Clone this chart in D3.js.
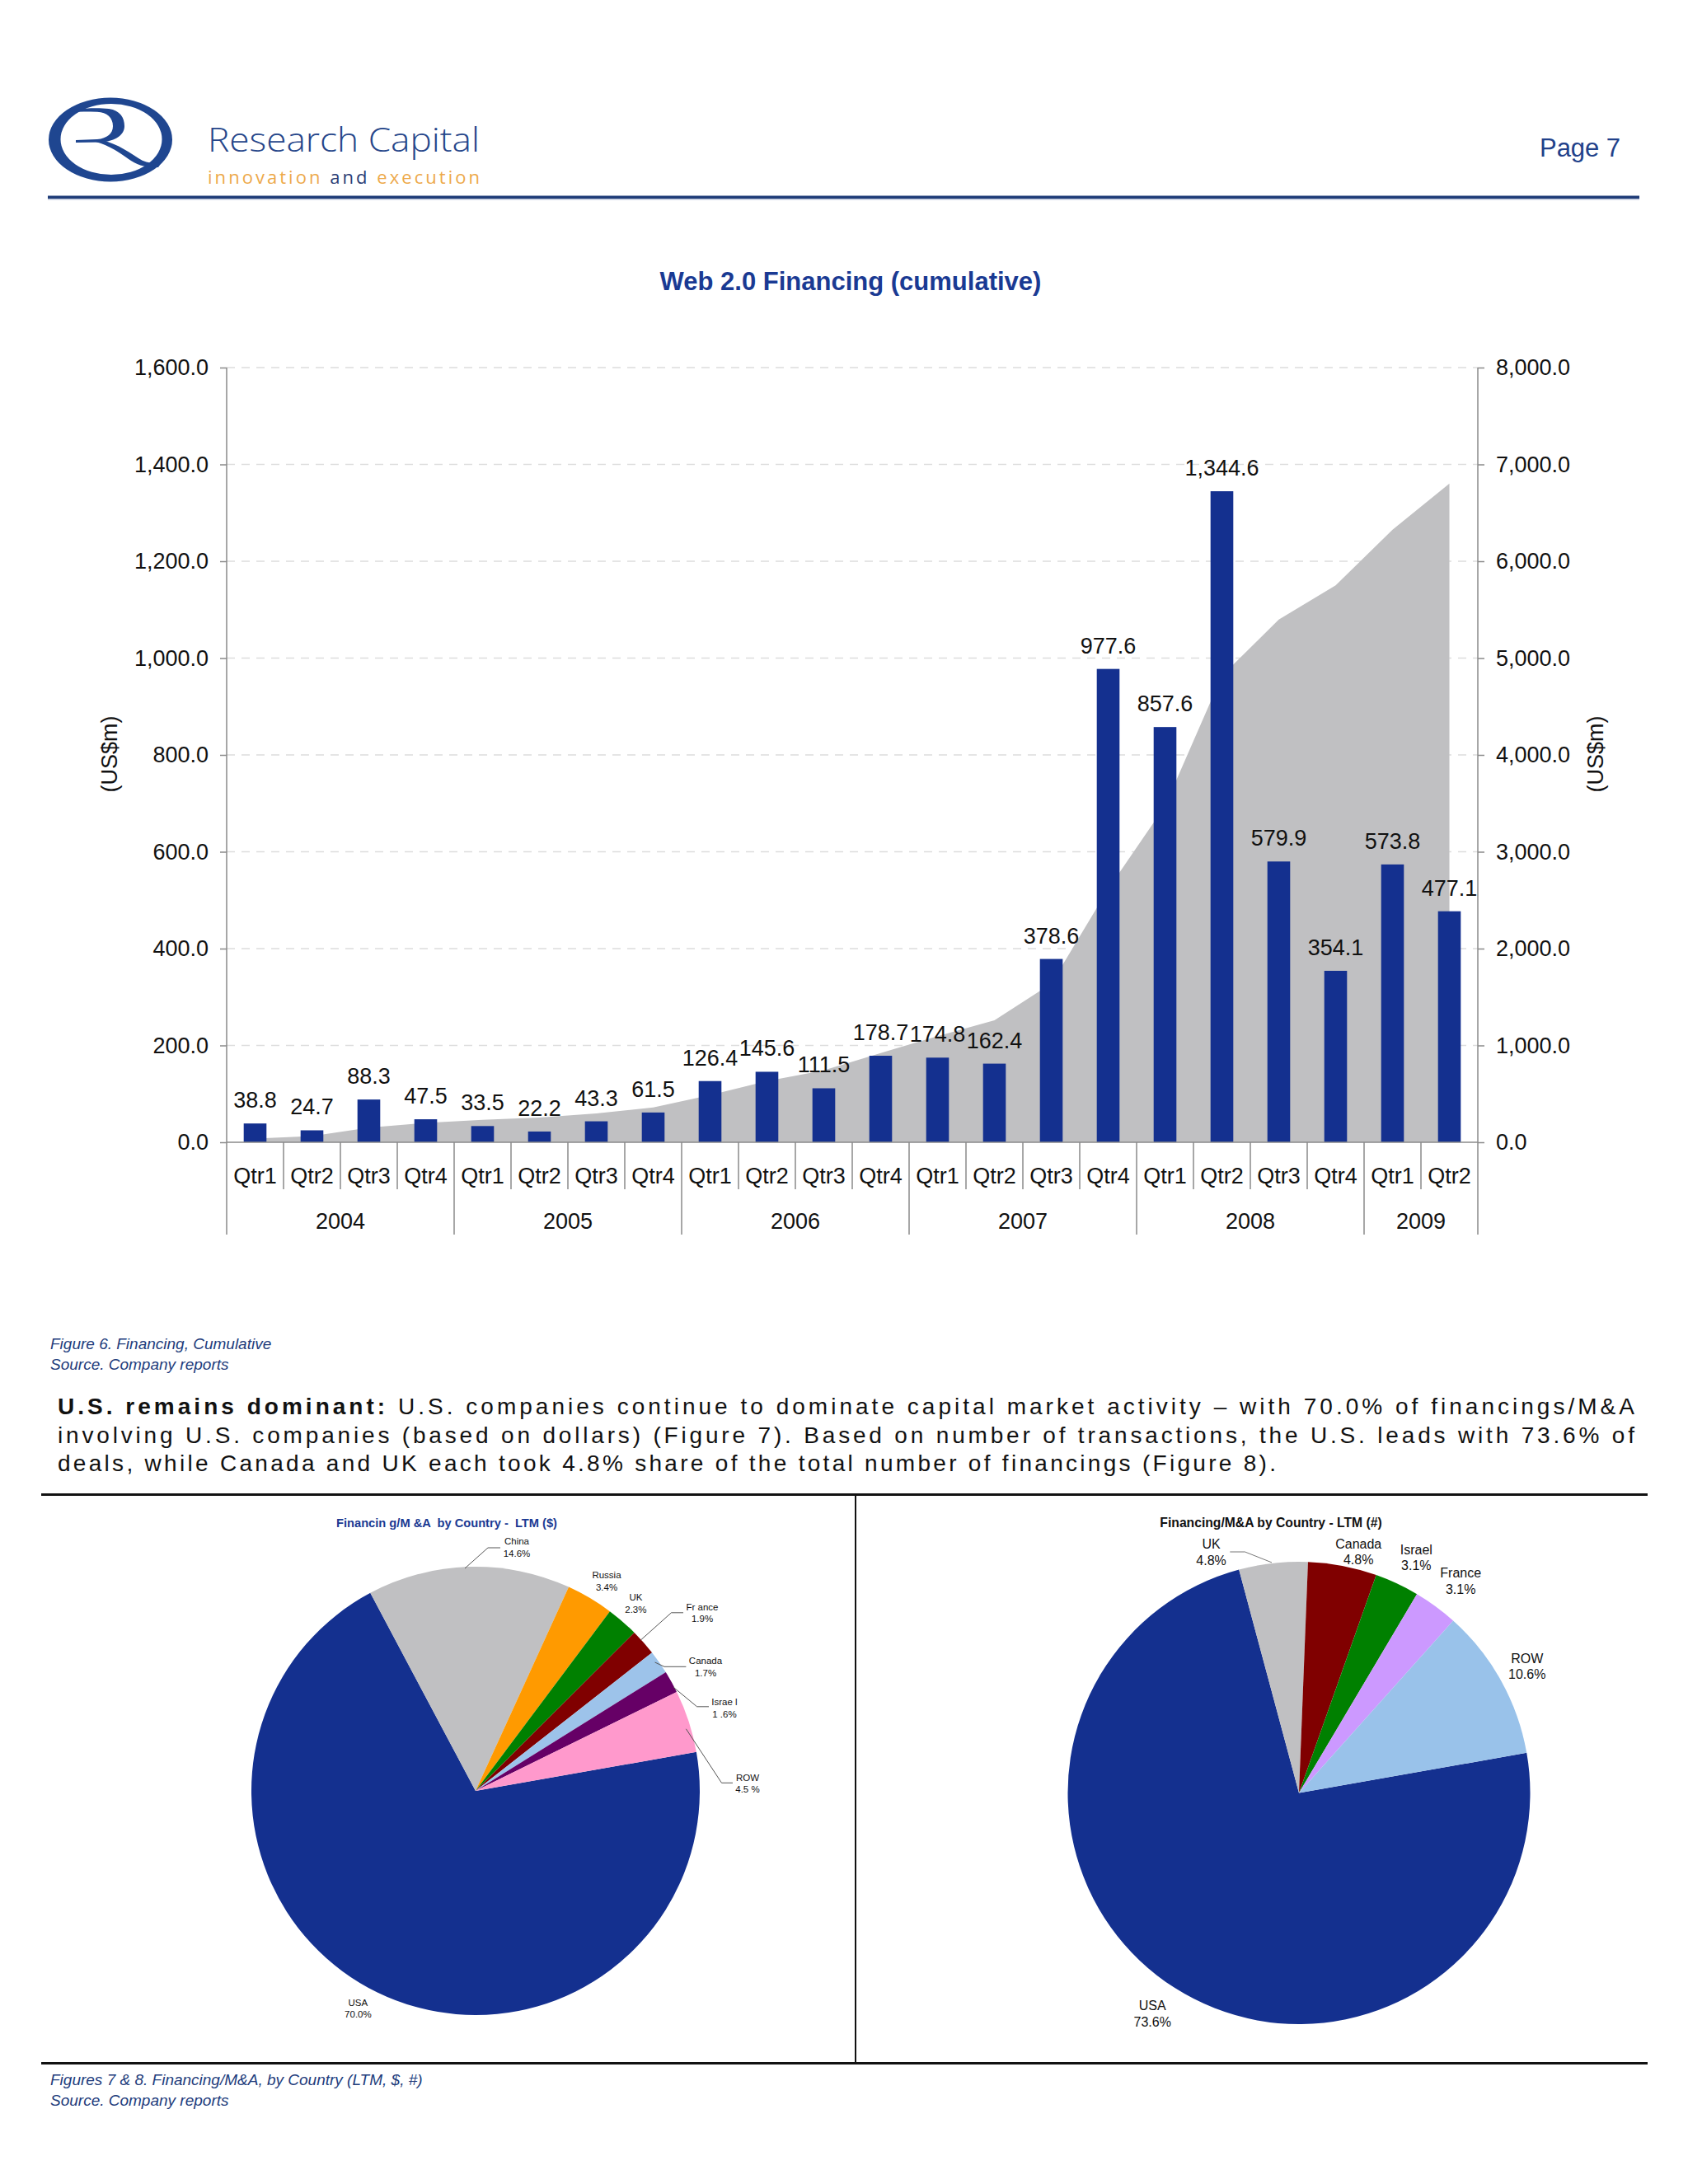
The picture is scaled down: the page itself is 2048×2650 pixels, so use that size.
<!DOCTYPE html>
<html>
<head>
<meta charset="utf-8">
<script src="https://cdn.jsdelivr.net/npm/d3@7"></script>
<style>
  html, body { margin: 0; padding: 0; background: #ffffff; }
  svg { display: block; }
  text { font-family: "Liberation Sans", Arial, Helvetica, sans-serif; }
</style>
</head>
<body>
<script>
// ---------------- DATA ----------------
const quarters = ["Qtr1","Qtr2","Qtr3","Qtr4","Qtr1","Qtr2","Qtr3","Qtr4","Qtr1","Qtr2","Qtr3","Qtr4",
                  "Qtr1","Qtr2","Qtr3","Qtr4","Qtr1","Qtr2","Qtr3","Qtr4","Qtr1","Qtr2"];
const barYears = ["2004","2004","2004","2004","2005","2005","2005","2005","2006","2006","2006","2006",
                  "2007","2007","2007","2007","2008","2008","2008","2008","2009","2009"];
const quarterly = [38.8,24.7,88.3,47.5,33.5,22.2,43.3,61.5,126.4,145.6,111.5,178.7,
                   174.8,162.4,378.6,977.6,857.6,1344.6,579.9,354.1,573.8,477.1];
const cumulative = [38.8,63.5,151.8,199.3,232.8,255.0,298.3,359.8,486.2,631.8,743.3,922.0,
                    1096.8,1259.2,1637.8,2615.4,3473.0,4817.6,5397.5,5751.6,6325.4,6802.5];
const leftTicks = [0,200,400,600,800,1000,1200,1400,1600];
const rightTicks = [0,1000,2000,3000,4000,5000,6000,7000,8000];

const pie1Countries = ["USA","China","Russia","UK","France","Canada","Israel","ROW"];
const pie1Values    = [70.0,14.6,3.4,2.3,1.9,1.7,1.6,4.5];
const pie1NameText  = ["USA","China","Russia","UK","Fr ance","Canada","Israe l","ROW"];
const pie1PctText   = ["70.0%","14.6%","3.4%","2.3%","1.9%","1.7%","1 .6%","4.5 %"];

const pie2Countries = ["USA","UK","Canada","Israel","France","ROW"];
const pie2Values    = [73.6,4.8,4.8,3.1,3.1,10.6];
const pie2PctText   = ["73.6%","4.8%","4.8%","3.1%","3.1%","10.6%"];

// ---------------- STYLE / LAYOUT ----------------
const NAVY = "#14308f";
const W = 2048, H = 2650;
const svg = d3.select("body").append("svg").attr("width", W).attr("height", H)
  .attr("viewBox", `0 0 ${W} ${H}`);
svg.append("rect").attr("width", W).attr("height", H).attr("fill", "#ffffff");

// ---------------- HEADER ----------------
const LOGO = "#1f4690";
const logo = svg.append("g");
// ring: outer and inner ellipse (thicker on the sides)
logo.append("path")
  .attr("d", "M59,169.5 a75,51 0 1,0 150,0 a75,51 0 1,0 -150,0 Z " +
             "M73.5,169 a61.5,43 0 1,1 123,0 a61.5,43 0 1,1 -123,0 Z")
  .attr("fill", LOGO).attr("fill-rule", "evenodd");
// R bowl
logo.append("path")
  .attr("d", "M83,136 L90,133 C105,131 120,130.5 132,132 C146,134 151,143 151,153 C151,164 140,171 124,172.5 " +
             "L92,173 L92,170 L118,169 C130,168 137,162 137,153 C137,143 130,136.5 118,135.8 C106,135.3 95,135.3 83,136 Z")
  .attr("fill", LOGO);
// R leg
logo.append("path")
  .attr("d", "M110,171 C126,173 141,182 156,193 C166,200 177,204 192,203 L196,197 C186,199 177,198 168,192 " +
             "C153,182 136,171 118,169.5 Z")
  .attr("fill", LOGO);

svg.append("text").attr("x", 252).attr("y", 184)
  .attr("textLength", 330).attr("lengthAdjust", "spacingAndGlyphs")
  .style("font-family", "'Open Sans', 'Noto Sans', sans-serif").style("font-size", "40px")
  .style("font-weight", 300).attr("fill", "#26468a").text("Research Capital");

const tag = svg.append("text").attr("x", 252).attr("y", 223)
  .attr("textLength", 330).attr("lengthAdjust", "spacing")
  .style("font-family", "'Open Sans', 'Noto Sans', sans-serif").style("font-size", "22px");
tag.append("tspan").attr("fill", "#eda94a").text("innovation ");
tag.append("tspan").attr("fill", "#2b3d75").text("and ");
tag.append("tspan").attr("fill", "#eda94a").text("execution");

svg.append("text").attr("x", 1966).attr("y", 190).attr("text-anchor", "end")
  .attr("textLength", 98).attr("lengthAdjust", "spacing")
  .style("font-size", "31px").attr("fill", "#22418a").text("Page 7");

svg.append("rect").attr("x", 58).attr("y", 237.5).attr("width", 1931).attr("height", 3.5).attr("fill", "#1f3c78");
svg.append("rect").attr("x", 58).attr("y", 241).attr("width", 1931).attr("height", 1.5).attr("fill", "#b9c3d8");

// ---------------- BAR / AREA CHART ----------------
const X0 = 275, X1 = 1793, YTOP = 446, YBASE = 1386, YBOTTOM = 1498;
const idx = d3.range(quarterly.length);
const xBand = d3.scaleBand().domain(idx).range([X0, X1]).paddingInner(0.6).paddingOuter(0.3);
const xCat = d3.scaleBand().domain(idx).range([X0, X1]).padding(0);
const yL = d3.scaleLinear().domain([0, 1600]).range([YBASE, YTOP]);
const yR = d3.scaleLinear().domain([0, 8000]).range([YBASE, YTOP]);
const fmt = d3.format(",.1f");

svg.append("text").attr("x", 1032).attr("y", 352).attr("text-anchor", "middle")
  .style("font-size", "31px").style("font-weight", "bold").attr("fill", "#1a3a93")
  .text("Web 2.0 Financing (cumulative)");

// gridlines
svg.append("g").selectAll("line").data(leftTicks.filter(d => d > 0)).join("line")
  .attr("x1", X0).attr("x2", X1).attr("y1", d => yL(d)).attr("y2", d => yL(d))
  .attr("stroke", "#dddddd").attr("stroke-width", 1.5).attr("stroke-dasharray", "10,8");

// cumulative area
const area = d3.area()
  .x((d, i) => xCat(i) + xCat.bandwidth() / 2)
  .y0(yR(0)).y1(d => yR(d));
svg.append("path").datum(cumulative).attr("d", area).attr("fill", "#c0c0c2");

// bars
svg.append("g").selectAll("rect").data(quarterly).join("rect")
  .attr("x", (d, i) => xBand(i)).attr("width", xBand.bandwidth())
  .attr("y", d => yL(d)).attr("height", d => YBASE - yL(d))
  .attr("fill", NAVY);

// value labels
svg.append("g").selectAll("text").data(quarterly).join("text")
  .attr("x", (d, i) => xCat(i) + xCat.bandwidth() / 2)
  .attr("y", d => yL(d) - 19)
  .attr("text-anchor", "middle").style("font-size", "27px").attr("fill", "#111")
  .text(d => fmt(d));

// axes
const axisColor = "#8a8a8a";
const leftAxis = svg.append("g").attr("transform", `translate(${X0},0)`)
  .call(d3.axisLeft(yL).tickValues(leftTicks).tickFormat(fmt).tickSize(8).tickPadding(14).tickSizeOuter(0));
const rightAxis = svg.append("g").attr("transform", `translate(${X1},0)`)
  .call(d3.axisRight(yR).tickValues(rightTicks).tickFormat(fmt).tickSize(8).tickPadding(14).tickSizeOuter(0));
[leftAxis, rightAxis].forEach(a => {
  a.select(".domain").remove();
  a.selectAll(".tick line").attr("stroke", axisColor).attr("stroke-width", 1.5);
  a.selectAll(".tick text").style("font-size", "27px").style("font-family", "'Liberation Sans', Arial, sans-serif").attr("fill", "#111");
});
// vertical axis lines
svg.append("line").attr("x1", X0).attr("x2", X0).attr("y1", YTOP).attr("y2", YBOTTOM)
  .attr("stroke", axisColor).attr("stroke-width", 1.5);
svg.append("line").attr("x1", X1).attr("x2", X1).attr("y1", YTOP).attr("y2", YBOTTOM)
  .attr("stroke", axisColor).attr("stroke-width", 1.5);
// baseline
svg.append("line").attr("x1", X0).attr("x2", X1).attr("y1", YBASE).attr("y2", YBASE)
  .attr("stroke", axisColor).attr("stroke-width", 1.5);

// category separators
svg.append("g").selectAll("line").data(idx.slice(1)).join("line")
  .attr("x1", i => xCat(i)).attr("x2", i => xCat(i))
  .attr("y1", YBASE).attr("y2", i => barYears[i] !== barYears[i - 1] ? YBOTTOM : 1443)
  .attr("stroke", axisColor).attr("stroke-width", 1.5);

// quarter labels
svg.append("g").selectAll("text").data(quarters).join("text")
  .attr("x", (d, i) => xCat(i) + xCat.bandwidth() / 2).attr("y", 1436)
  .attr("text-anchor", "middle").style("font-size", "27px").attr("fill", "#111")
  .text(d => d);

// year labels
const yearGroups = d3.groups(idx, i => barYears[i]);
svg.append("g").selectAll("text").data(yearGroups).join("text")
  .attr("x", g => (xCat(g[1][0]) + xCat(g[1][g[1].length - 1]) + xCat.bandwidth()) / 2)
  .attr("y", 1491).attr("text-anchor", "middle").style("font-size", "27px").attr("fill", "#111")
  .text(g => g[0]);

// axis titles
svg.append("text").attr("transform", "translate(142,915) rotate(-90)").attr("text-anchor", "middle")
  .style("font-size", "27px").attr("fill", "#111").text("(US$m)");
svg.append("text").attr("transform", "translate(1945,915) rotate(-90)").attr("text-anchor", "middle")
  .style("font-size", "27px").attr("fill", "#111").text("(US$m)");

// ---------------- CAPTION 1 & PARAGRAPH ----------------
const capColor = "#223c7c";
svg.append("text").attr("x", 61).attr("y", 1637).style("font-size", "19px").style("font-style", "italic")
  .attr("fill", capColor).text("Figure 6. Financing, Cumulative");
svg.append("text").attr("x", 61).attr("y", 1662).style("font-size", "19px").style("font-style", "italic")
  .attr("fill", capColor).text("Source. Company reports");

const paraLines = [
  { y: 1716, len: 1913, bold: "U.S. remains dominant: ", rest: "U.S. companies continue to dominate capital market activity \u2013 with 70.0% of financings/M&A" },
  { y: 1751, len: 1913, bold: "", rest: "involving U.S. companies (based on dollars) (Figure 7). Based on number of transactions, the U.S. leads with 73.6% of" },
  { y: 1785, len: 1478, bold: "", rest: "deals, while Canada and UK each took 4.8% share of the total number of financings (Figure 8)." }
];
paraLines.forEach(l => {
  const t = svg.append("text").attr("x", 70).attr("y", l.y)
    .attr("textLength", l.len).attr("lengthAdjust", "spacing")
    .style("font-size", "28px").attr("fill", "#111");
  if (l.bold) t.append("tspan").style("font-weight", "bold").text(l.bold);
  t.append("tspan").text(l.rest);
});

// frame lines
svg.append("rect").attr("x", 50).attr("y", 1812).attr("width", 1949).attr("height", 3).attr("fill", "#111");
svg.append("rect").attr("x", 50).attr("y", 2502).attr("width", 1949).attr("height", 3).attr("fill", "#111");
svg.append("rect").attr("x", 1037).attr("y", 1813).attr("width", 2).attr("height", 690).attr("fill", "#111");

svg.append("text").attr("x", 61).attr("y", 2530).style("font-size", "19px").style("font-style", "italic")
  .attr("fill", capColor).text("Figures 7 & 8. Financing/M&A, by Country (LTM, $, #)");
svg.append("text").attr("x", 61).attr("y", 2555).style("font-size", "19px").style("font-style", "italic")
  .attr("fill", capColor).text("Source. Company reports");

// ---------------- PIES ----------------
const deg = Math.PI / 180;
function drawPie(cx, cy, r, values, colors) {
  const pie = d3.pie().sort(null).value(d => d).startAngle(80 * deg).endAngle(440 * deg);
  const arc = d3.arc().innerRadius(0).outerRadius(r);
  svg.append("g").attr("transform", `translate(${cx},${cy})`)
    .selectAll("path").data(pie(values)).join("path")
    .attr("d", arc).attr("fill", (d, i) => colors[i]);
}

// Pie 1
const pie1Colors = [NAVY, "#c0c0c2", "#ff9a00", "#008000", "#800000", "#9dc3ea", "#660066", "#ff99cc"];
drawPie(577, 2173, 272, pie1Values, pie1Colors);
svg.append("text").attr("x", 542).attr("y", 1853).attr("text-anchor", "middle")
  .attr("textLength", 268).attr("lengthAdjust", "spacingAndGlyphs")
  .style("font-size", "14.5px").style("font-weight", "bold").style("white-space", "pre")
  .attr("fill", "#1a3a93").text("Financin g/M &A  by Country -  LTM ($)");

const pie1LabelPos = [[434.4, 2429.5], [627, 1870], [736, 1911.2], [771.4, 1938.2], [852, 1949.8], [856, 2014.9], [879, 2065.4], [907, 2156.6]];
const pie1Leaders = {
  1: [[564, 1903], [592, 1878], [607, 1878]],
  4: [[777.4, 1990], [814.5, 1956.8], [829, 1956.8]],
  5: [[794.6, 2017], [806, 2022.3], [832.4, 2022.3]],
  6: [[817, 2047.2], [845.6, 2070.8], [860, 2070.8]],
  7: [[832.4, 2097.8], [875.5, 2163.3], [889, 2163.3]]
};
const line = d3.line();
Object.values(pie1Leaders).forEach(pts => {
  svg.append("path").attr("d", line(pts)).attr("fill", "none").attr("stroke", "#555").attr("stroke-width", 1);
});
pie1Countries.forEach((c, i) => {
  const [x, y] = pie1LabelPos[i];
  const t = svg.append("text").attr("text-anchor", "middle").style("font-size", "11.5px")
    .style("white-space", "pre").attr("fill", "#111");
  t.append("tspan").attr("x", x).attr("y", y).attr("dominant-baseline", "central").text(pie1NameText[i]);
  t.append("tspan").attr("x", x).attr("y", y + 14.6).attr("dominant-baseline", "central").text(pie1PctText[i]);
});

// Pie 2
const pie2Colors = [NAVY, "#c0c0c2", "#800000", "#008000", "#cc99ff", "#99c2ea"];
drawPie(1576, 2175.5, 280.5, pie2Values, pie2Colors);
svg.append("text").attr("x", 1542).attr("y", 1853).attr("text-anchor", "middle")
  .style("font-size", "15.7px").style("font-weight", "bold").attr("fill", "#111")
  .text("Financing/M&A by Country - LTM (#)");
const pie2LabelPos = [[1398.2, 2433.6], [1469.6, 1873.9], [1648.2, 1873.1], [1718.3, 1880.1], [1772.2, 1908.3], [1852.7, 2012]];
svg.append("path").attr("d", line([[1543, 1895.9], [1510.5, 1883], [1492.3, 1883]]))
  .attr("fill", "none").attr("stroke", "#777").attr("stroke-width", 1);
pie2Countries.forEach((c, i) => {
  const [x, y] = pie2LabelPos[i];
  const t = svg.append("text").attr("text-anchor", "middle").style("font-size", "16px").attr("fill", "#111");
  t.append("tspan").attr("x", x).attr("y", y).attr("dominant-baseline", "central").text(c);
  t.append("tspan").attr("x", x).attr("y", y + 19.7).attr("dominant-baseline", "central").text(pie2PctText[i]);
});
</script>
</body>
</html>
